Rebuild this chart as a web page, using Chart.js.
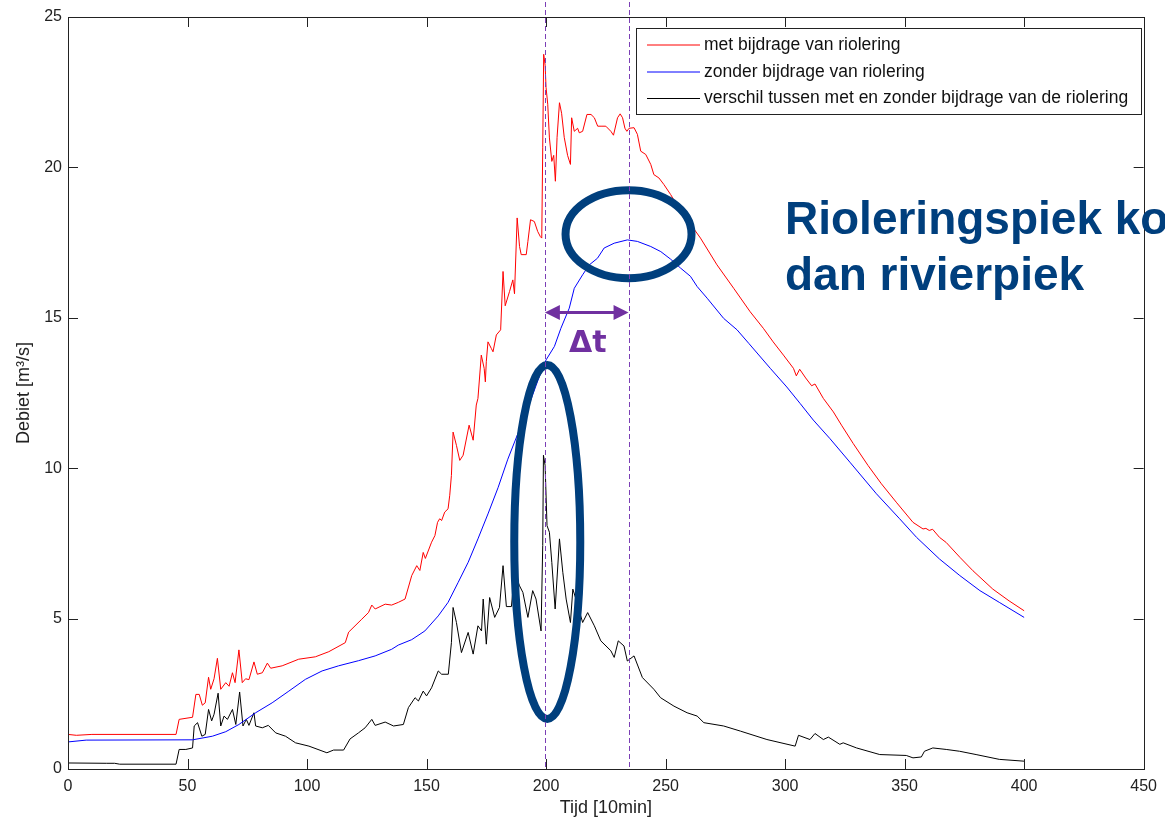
<!DOCTYPE html>
<html>
<head>
<meta charset="utf-8">
<script src="https://cdn.jsdelivr.net/npm/chart.js@4.4.1/dist/chart.umd.min.js"></script>
<style>
  html, body { margin: 0; padding: 0; background: #fff; }
  #wrap { width: 1165px; height: 823px; position: relative; overflow: hidden; }
</style>
</head>
<body>
<div id="wrap"><canvas id="grafiek"></canvas></div>
<script>
// tijd [10min] en debiet [m3/s]
const tMet = [0, 3.5, 10, 45.2, 46.5, 52.1, 53.5, 54.9, 56.2, 57.4, 58.8, 59.7, 61.1, 62.5, 63.9, 66, 67.4, 68.8, 69.9, 71.5,
  72.9, 74.3, 75.7, 77.8, 79.2, 81.3, 83.4, 84.8, 89.6, 96.5, 103.5, 109.1, 116, 117.4, 122.9, 125.7, 127.1, 128.5, 132.7, 135.4,
  138.2, 141, 143.8, 145.9, 147.2, 148.6, 149.5, 152.1, 153.5, 154.6, 155.5, 156.3, 157.6, 159, 159.7, 160.4, 161.1, 162.5, 163.9, 165.3,
  167.8, 169.5, 170.8, 171.5, 172.9, 174.1, 174.6, 175, 175.7, 177.1, 177.8, 179.2, 181, 182, 182.9, 184.7, 186.1, 186.8, 187.9, 188.9,
  189.6, 191.7, 192.4, 193.5, 195.1, 196.5, 197.6, 198.2, 198.6, 199, 199.6, 200, 200.7, 201.4, 202.4, 203.2, 203.9, 204.6, 205.6, 206.5,
  207.6, 209, 210.2, 210.7, 211.8, 213.2, 213.9, 215.3, 217.1, 218.8, 220.2, 221.6, 223, 225, 227.1, 228.2, 229.9, 231, 232, 233,
  233.8, 234.7, 236.8, 238.2, 239.6, 241.7, 243.8, 245.1, 247.2, 249.3, 252.1, 256.3, 259.1, 264.6, 271.5, 278.5, 285.4, 290.9, 295, 299.3,
  303.5, 304.7, 306.1, 308.6, 311.1, 312.5, 316, 320.2, 323.6, 328.5, 334.7, 340.3, 346.5, 353.5, 357.7, 358.9, 360.3, 361.7, 364.6, 367.4,
  373.1, 378.6, 386.9, 393.7, 400];
const qMet = [1.15, 1.12, 1.15, 1.15, 1.65, 1.72, 2.48, 2.48, 2.12, 2.2, 3.05, 2.65, 3.0, 3.68, 2.65, 2.87, 2.75, 3.2, 2.87, 3.96,
  2.87, 3.0, 2.97, 3.56, 3.15, 3.2, 3.52, 3.35, 3.43, 3.65, 3.73, 3.9, 4.2, 4.55, 4.98, 5.2, 5.45, 5.32, 5.48, 5.45,
  5.54, 5.65, 6.43, 6.76, 6.6, 7.2, 7.0, 7.54, 7.76, 8.2, 8.32, 8.26, 8.54, 8.65, 9.1, 9.76, 11.2, 10.76, 10.26, 10.43,
  11.43, 10.93, 12.1, 12.32, 13.76, 13.32, 12.87, 13.54, 14.2, 13.98, 13.87, 14.43, 14.6, 16.54, 15.4, 15.87, 16.26, 15.8, 18.32, 17.37,
  17.1, 17.1, 17.54, 18.26, 18.2, 17.87, 17.7, 17.65, 20.65, 23.76, 23.4, 22.65, 22.1, 20.98, 20.2, 20.4, 19.54, 21.0, 22.15, 21.8,
  21.0, 20.4, 20.1, 21.65, 21.2, 21.3, 21.15, 21.2, 21.76, 21.76, 21.65, 21.37, 21.37, 21.37, 21.2, 21.07, 21.65, 21.78, 21.65, 21.3,
  21.2, 21.3, 21.32, 21.1, 20.54, 20.43, 20.1, 19.76, 19.65, 19.43, 19.1, 18.54, 18.26, 17.65, 16.76, 15.98, 15.2, 14.65, 14.2, 13.76,
  13.32, 13.07, 13.29, 13.0, 12.74, 12.8, 12.32, 11.87, 11.43, 10.82, 10.09, 9.48, 8.87, 8.2, 7.98, 8.0, 7.93, 7.97, 7.7, 7.53,
  7.04, 6.59, 5.98, 5.59, 5.26];

const tZonder = [0, 7.6, 52.1, 60.4, 66, 71.5, 78.5, 85.4, 92.4, 99.3, 106.3, 113.2, 121.5, 128.5, 135.4, 138.2, 143.8, 149.3, 154.9, 159,
  163.2, 167.4, 171.5, 175.7, 179.9, 184, 188.2, 192.4, 196.5, 200, 203.5, 206.2, 209.7, 211.8, 215.3, 218.1, 221.5, 224.3, 228.5, 234,
  238.2, 243.8, 248, 252.1, 256.3, 260.4, 263.2, 267.4, 274.3, 279.9, 284.8, 293.8, 300.7, 306.3, 311.8, 318.8, 327.1, 338.2, 347.9, 355,
  364.6, 373.1, 381.5, 389.6, 400];
const qZonder = [0.9, 0.96, 0.97, 1.09, 1.24, 1.48, 1.87, 2.2, 2.59, 2.98, 3.26, 3.43, 3.6, 3.76, 3.98, 4.12, 4.3, 4.59, 5.09, 5.54,
  6.2, 6.87, 7.65, 8.48, 9.35, 10.3, 11.15, 12.0, 12.9, 13.6, 14.05, 14.65, 15.32, 15.98, 16.43, 16.76, 16.98, 17.32, 17.48, 17.59,
  17.54, 17.37, 17.2, 16.95, 16.65, 16.38, 16.04, 15.65, 14.98, 14.6, 14.15, 13.32, 12.7, 12.15, 11.6, 10.98, 10.2, 9.15, 8.32, 7.7,
  6.98, 6.43, 5.93, 5.54, 5.04];

const tVerschil = [0, 16, 19.5, 21.6, 45.2, 46.5, 49.3, 52.1, 52.8, 54.2, 56, 57.4, 58.8, 60.1, 61.1, 62.8, 63.9, 65.3, 66.7, 68.8,
  70.2, 71.8, 73.2, 74.6, 75.7, 77.8, 78.5, 81.3, 83.8, 86.9, 91, 95.2, 100.8, 108.3, 111.1, 115.3, 118, 121.5, 124.3, 127.1,
  128.5, 132.7, 136.2, 140.3, 142.4, 145.2, 146.6, 148.6, 150, 152.1, 154.9, 156.3, 159.1, 160.4, 161.1, 162.5, 164.6, 167.4, 169.5, 171.5,
  173, 173.7, 175, 176.4, 178.5, 180.5, 182, 183.4, 185.5, 186.8, 188.9, 190.3, 192.4, 194.4, 195.8, 197.9, 198.6, 198.9, 199.6, 200.4,
  201.4, 202.4, 203.8, 205.6, 207, 208.4, 210.2, 211.2, 212.5, 215.3, 217.4, 220.2, 222.9, 227.1, 228.5, 230.2, 232.6, 234, 236.8, 240.3,
  245.1, 247.9, 253.5, 259, 263.2, 266, 274.3, 281.3, 292.4, 304.2, 305.6, 310.4, 312.5, 316, 318.1, 322.9, 324.3, 329.9, 339.6, 350.7,
  353.5, 357, 358.3, 361.8, 367.4, 373, 379.9, 389.6, 400];
const qVerschil = [0.2, 0.19, 0.19, 0.16, 0.16, 0.65, 0.65, 0.7, 1.43, 1.54, 1.09, 1.15, 1.98, 1.6, 1.82, 2.52, 1.43, 1.76, 1.65, 1.98,
  1.48, 2.56, 1.43, 1.65, 1.45, 1.87, 1.43, 1.37, 1.45, 1.2, 1.09, 0.87, 0.76, 0.54, 0.63, 0.63, 1.0, 1.2, 1.37, 1.65,
  1.45, 1.56, 1.43, 1.48, 2.04, 2.37, 2.26, 2.59, 2.43, 2.7, 3.26, 3.15, 3.15, 4.2, 5.37, 4.87, 3.87, 4.54, 3.82, 4.76,
  4.59, 5.65, 4.15, 5.7, 5.04, 5.37, 6.76, 5.4, 5.4, 6.54, 6.09, 5.87, 5.04, 5.93, 5.65, 4.59, 7.43, 10.43, 10.09, 8.09,
  7.87, 6.87, 5.32, 7.65, 6.54, 5.65, 4.87, 5.98, 5.65, 4.87, 5.2, 4.76, 4.26, 3.93, 3.71, 4.26, 4.09, 3.59, 3.76, 3.04,
  2.65, 2.37, 2.09, 1.87, 1.76, 1.54, 1.43, 1.26, 0.98, 0.76, 1.12, 0.98, 1.18, 0.98, 1.06, 0.82, 0.87, 0.7, 0.48, 0.45,
  0.37, 0.4, 0.59, 0.7, 0.65, 0.59, 0.48, 0.32, 0.26];

const reeksNamen = ['met bijdrage van riolering', 'zonder bijdrage van riolering', 'verschil tussen met en zonder bijdrage van de riolering'];
const reeksKleuren = ['#ff0000', '#0000ff', '#000000'];

// pieken: riolering en rivier (verticale streepjeslijnen)
const piekTijden = [199.5, 234.5];

function punten(t, q) {
    return t.map((x, i) => ({ x: x, y: q[i] }));
}

const fontNaam = '"Liberation Sans", Arial, Helvetica, sans-serif';

// extra tekening: kader, ticks naar binnen, legenda en annotaties
const extraTekening = {
    id: 'extraTekening',
    afterDraw(chart) {
        const ctx = chart.ctx;
        const ca = chart.chartArea;
        const xs = chart.scales.x;
        const ys = chart.scales.y;

        ctx.save();
        // kader
        ctx.strokeStyle = '#222';
        ctx.lineWidth = 1;
        ctx.strokeRect(Math.round(ca.left) + 0.5, Math.round(ca.top) + 0.5, Math.round(ca.right - ca.left), Math.round(ca.bottom - ca.top));

        // ticks naar binnen
        ctx.beginPath();
        xs.ticks.forEach(tk => {
            const px = Math.round(xs.getPixelForValue(tk.value)) + 0.5;
            ctx.moveTo(px, ca.bottom); ctx.lineTo(px, ca.bottom - 10);
            ctx.moveTo(px, ca.top); ctx.lineTo(px, ca.top + 10);
        });
        ys.ticks.forEach(tk => {
            const py = Math.round(ys.getPixelForValue(tk.value)) + 0.5;
            ctx.moveTo(ca.left, py); ctx.lineTo(ca.left + 10, py);
            ctx.moveTo(ca.right, py); ctx.lineTo(ca.right - 10, py);
        });
        ctx.stroke();

        // ellipsen rond de pieken
        ctx.strokeStyle = '#003f7d';
        ctx.lineWidth = 8;
        ctx.beginPath();
        ctx.ellipse(xs.getPixelForValue(234.5), ys.getPixelForValue(17.78), 63, 44, 0, 0, Math.PI * 2);
        ctx.stroke();
        ctx.beginPath();
        ctx.ellipse(xs.getPixelForValue(200.5), ys.getPixelForValue(7.55), 33, 177, 0, 0, Math.PI * 2);
        ctx.stroke();

        // verticale streepjeslijnen
        ctx.strokeStyle = '#7b3fb5';
        ctx.lineWidth = 1;
        ctx.setLineDash([5, 3]);
        piekTijden.forEach(t => {
            const px = Math.round(xs.getPixelForValue(t)) + 0.5;
            ctx.beginPath();
            ctx.moveTo(px, 2);
            ctx.lineTo(px, ca.bottom);
            ctx.stroke();
        });
        ctx.setLineDash([]);

        // pijl delta t
        const x1 = xs.getPixelForValue(piekTijden[0]);
        const x2 = xs.getPixelForValue(piekTijden[1]);
        const ya = ys.getPixelForValue(15.18);
        ctx.fillStyle = '#7030a0';
        ctx.strokeStyle = '#7030a0';
        ctx.lineWidth = 3;
        ctx.beginPath();
        ctx.moveTo(x1 + 12, ya); ctx.lineTo(x2 - 12, ya);
        ctx.stroke();
        ctx.beginPath();
        ctx.moveTo(x1, ya); ctx.lineTo(x1 + 15, ya - 7.5); ctx.lineTo(x1 + 15, ya + 7.5); ctx.closePath();
        ctx.fill();
        ctx.beginPath();
        ctx.moveTo(x2, ya); ctx.lineTo(x2 - 15, ya - 7.5); ctx.lineTo(x2 - 15, ya + 7.5); ctx.closePath();
        ctx.fill();
        ctx.font = 'bold 30px "DejaVu Sans", Verdana, sans-serif';
        ctx.textAlign = 'center';
        ctx.textBaseline = 'alphabetic';
        ctx.fillText('\u0394t', (x1 + x2) / 2 + 1, 352);

        // tekst
        ctx.fillStyle = '#003f7d';
        ctx.textAlign = 'left';
        ctx.font = 'bold 46px ' + fontNaam;
        ctx.fillText('Rioleringspiek komt vroeger', 785, 234);
        ctx.fillText('dan rivierpiek', 785, 290);

        // legenda
        ctx.fillStyle = '#fff';
        ctx.fillRect(636.5, 28.5, 505, 86);
        ctx.strokeStyle = '#222';
        ctx.lineWidth = 1;
        ctx.strokeRect(636.5, 28.5, 505, 86);
        ctx.font = '17.5px ' + fontNaam;
        ctx.textBaseline = 'middle';
        const rijen = [45, 72, 98.5];
        chart.data.datasets.forEach((ds, i) => {
            ctx.strokeStyle = ds.borderColor;
            ctx.beginPath();
            ctx.moveTo(647, rijen[i]);
            ctx.lineTo(700, rijen[i]);
            ctx.stroke();
            ctx.fillStyle = '#111';
            ctx.fillText(ds.label, 704, rijen[i]);
        });
        ctx.restore();
    }
};

new Chart(document.getElementById('grafiek'), {
    type: 'line',
    data: {
        datasets: [
            { label: reeksNamen[0], data: punten(tMet, qMet), borderColor: reeksKleuren[0] },
            { label: reeksNamen[1], data: punten(tZonder, qZonder), borderColor: reeksKleuren[1] },
            { label: reeksNamen[2], data: punten(tVerschil, qVerschil), borderColor: reeksKleuren[2] }
        ]
    },
    options: {
        responsive: true,
        maintainAspectRatio: false,
        animation: false,
        layout: { padding: { left: 0, top: 17, right: 17, bottom: 0 } },
        elements: {
            line: { borderWidth: 1, tension: 0 },
            point: { radius: 0 }
        },
        plugins: {
            legend: { display: false },
            tooltip: { enabled: false }
        },
        scales: {
            x: {
                type: 'linear',
                min: 0,
                max: 450,
                grid: { display: false, drawTicks: false },
                border: { display: false },
                ticks: { stepSize: 50, padding: 8, color: '#222', font: { family: fontNaam, size: 16 }, maxRotation: 0 },
                title: { display: true, text: 'Tijd [10min]', color: '#222', font: { family: fontNaam, size: 18 }, padding: { top: 0, bottom: 4 } },
                afterFit(scale) { scale.height = 54; }
            },
            y: {
                min: 0,
                max: 25,
                grid: { display: false, drawTicks: false },
                border: { display: false },
                ticks: { stepSize: 5, padding: 6, color: '#222', font: { family: fontNaam, size: 16 } },
                title: { display: true, text: 'Debiet [m\u00b3/s]', color: '#222', font: { family: fontNaam, size: 18 }, padding: { top: 13, bottom: 0 } },
                afterFit(scale) { scale.width = 68; }
            }
        }
    },
    plugins: [extraTekening]
});
</script>
</body>
</html>
